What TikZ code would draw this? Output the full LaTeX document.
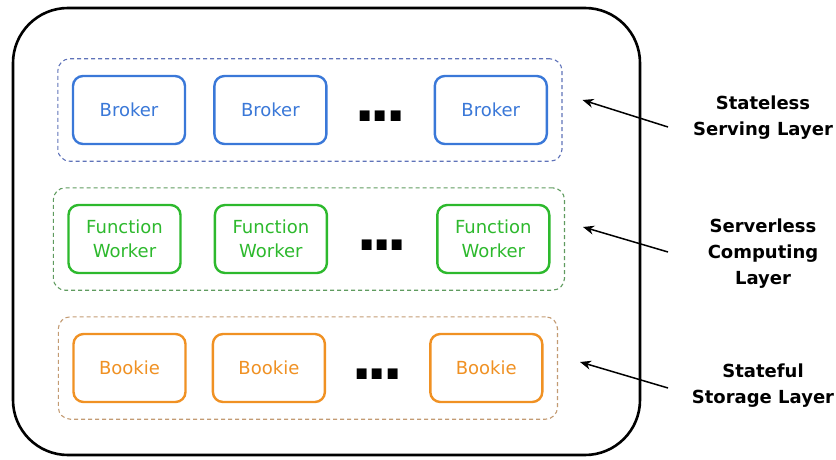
\documentclass[tikz,border=0pt]{standalone}
\usepackage{fontspec}
\setmainfont{DejaVu Sans}
\usetikzlibrary{
  arrows.meta,
  positioning,
  fit,
  calc
}
\definecolor{brokerblue}{RGB}{58, 120, 216}
\definecolor{workergreen}{RGB}{45, 185, 45}
\definecolor{bookieorange}{RGB}{240, 145, 35}
\definecolor{servedash}{RGB}{95, 115, 185}
\definecolor{computedash}{RGB}{95, 155, 95}
\definecolor{storedash}{RGB}{195, 155, 115}
\tikzset{
  unit/.style = {
    rectangle, rounded corners=10pt,
    draw=#1, text=#1, line width=2.4pt,
    fill=white, minimum width=112pt, minimum height=68pt,
    align=center, font=\fontsize{18}{24}\selectfont
  },
  unit/.default = brokerblue,
  layer/.style = {
    draw=#1, line width=1.1pt, dash pattern=on 4pt off 3pt,
    rounded corners=12pt, inner xsep=14pt, inner ysep=16pt
  },
  more/.style = {inner sep=0pt, font=\fontsize{56}{56}\bfseries},
  tag/.style  = {align=center, font=\fontsize{18}{26}\bfseries},
  pointer/.style = {-{Stealth[length=11pt, width=9pt]}, line width=1.5pt},
}

\begin{document}
\begin{tikzpicture}[x=1pt, y=-1pt, node distance=29pt]

  \useasboundingbox (0,0) rectangle (836,460);
  \draw[line width=2.6pt, rounded corners=55pt] (13,8) rectangle (640,455);

  %% Serving layer
  \node[unit=brokerblue] (br1) at (129,110) {Broker};
  \node[unit=brokerblue, right=27pt of br1] (br2) {Broker};
  \node[unit=brokerblue, right=106pt of br2] (br3) {Broker};
  \node[more] (brdots) at ($(br2.east)!0.5!(br3.west)+(0,6)$)
    {.\kern-6pt.\kern-6pt.};

  %% Computing layer
  \node[unit=workergreen] (fw1) at (124.5,239) {Function\\Worker};
  \node[unit=workergreen, right=32pt of fw1] (fw2) {Function\\Worker};
  \node[unit=workergreen, right=108pt of fw2] (fw3) {Function\\Worker};
  \node[more] (fwdots) at ($(fw2.east)!0.5!(fw3.west)+(0,6)$)
    {.\kern-6pt.\kern-6pt.};

  %% Storage layer
  \node[unit=bookieorange] (bk1) at (129.5,368) {Bookie};
  \node[unit=bookieorange, right=25pt of bk1] (bk2) {Bookie};
  \node[unit=bookieorange, right=103pt of bk2] (bk3) {Bookie};
  \node[more] (bkdots) at ($(bk2.east)!0.5!(bk3.west)+(0,6)$)
    {.\kern-6pt.\kern-6pt.};

  \node[layer=servedash, fit=(br1) (br3)] (serve) {};
  \node[layer=computedash, fit=(fw1) (fw3)] (compute) {};
  \node[layer=storedash, fit=(bk1) (bk3)] (store) {};

  %% side labels
  \node[tag] (servetag) at (763,118) {Stateless\\Serving Layer};
  \node[tag] (computetag) at (763,254) {Serverless\\Computing\\Layer};
  \node[tag] (storetag) at (763,386) {Stateful\\Storage Layer};

  \coordinate (servetail) at (668,127);
  \coordinate (computetail) at (668,252);
  \coordinate (storetail) at (668,388);
  \coordinate (servetip) at ($(serve.east)+(20,-10)$);
  \coordinate (computetip) at ($(compute.east)+(18,-12)$);
  \coordinate (storetip) at ($(store.east)+(22,-6)$);

  \draw[pointer] (servetail) -- (servetip);
  \draw[pointer] (computetail) -- (computetip);
  \draw[pointer] (storetail) -- (storetip);

\end{tikzpicture}
\end{document}
